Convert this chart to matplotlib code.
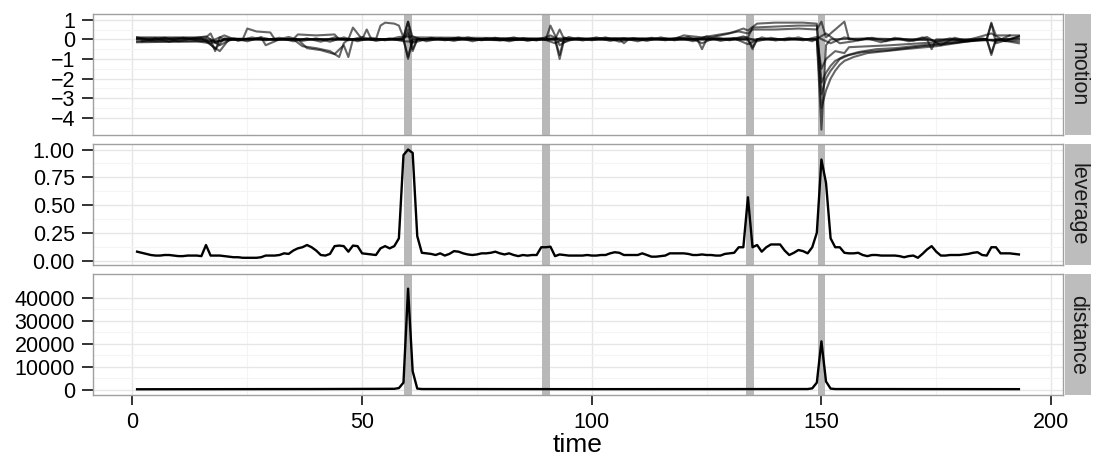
import numpy as np
import matplotlib
matplotlib.use("Agg")
import matplotlib.pyplot as plt

plt.rcParams['font.family'] = ['Liberation Sans', 'DejaVu Sans']

# ---- data ----
time = list(range(1, 194))

leverage = [
    0.08, 0.07, 0.06, 0.05, 0.045, 0.045, 0.05, 0.05, 0.045, 0.04,
    0.04, 0.045, 0.045, 0.045, 0.04, 0.14, 0.045, 0.045, 0.045, 0.04,
    0.035, 0.03, 0.03, 0.025, 0.025, 0.025, 0.025, 0.03, 0.045, 0.045,
    0.045, 0.05, 0.065, 0.06, 0.09, 0.11, 0.12, 0.14, 0.12, 0.09,
    0.05, 0.045, 0.06, 0.13, 0.135, 0.13, 0.08, 0.135, 0.13, 0.065,
    0.06, 0.055, 0.05, 0.11, 0.13, 0.11, 0.13, 0.2, 0.95, 1.0,
    0.97, 0.22, 0.07, 0.065, 0.06, 0.05, 0.065, 0.045, 0.06, 0.085,
    0.08, 0.065, 0.055, 0.05, 0.055, 0.065, 0.065, 0.07, 0.08, 0.065,
    0.055, 0.065, 0.05, 0.04, 0.05, 0.045, 0.05, 0.05, 0.12, 0.12,
    0.125, 0.04, 0.055, 0.05, 0.045, 0.045, 0.045, 0.045, 0.05, 0.045,
    0.045, 0.05, 0.05, 0.065, 0.075, 0.07, 0.05, 0.05, 0.05, 0.05,
    0.065, 0.05, 0.035, 0.035, 0.04, 0.045, 0.065, 0.065, 0.065, 0.065,
    0.06, 0.05, 0.05, 0.055, 0.05, 0.05, 0.045, 0.045, 0.06, 0.065,
    0.07, 0.12, 0.12, 0.57, 0.12, 0.14, 0.08, 0.12, 0.145, 0.145,
    0.145, 0.09, 0.05, 0.07, 0.095, 0.085, 0.065, 0.12, 0.25, 0.91,
    0.7, 0.2, 0.12, 0.12, 0.07, 0.065, 0.065, 0.07, 0.05, 0.04,
    0.05, 0.05, 0.045, 0.045, 0.045, 0.045, 0.04, 0.03, 0.04, 0.045,
    0.025, 0.06, 0.1, 0.13, 0.08, 0.045, 0.045, 0.05, 0.05, 0.05,
    0.055, 0.06, 0.07, 0.075, 0.05, 0.045, 0.12, 0.12, 0.065, 0.065,
    0.065, 0.06, 0.055,
]

# distance is ~0 except at the two outliers
dist_t = [1, 40, 57, 58, 59, 60, 61, 62, 63, 100, 147, 148, 149, 150, 151, 152, 153, 193]
dist_v = [100, 200, 300, 600, 3000, 44000, 8000, 400, 200, 150, 200, 500, 3000, 21000, 3500, 400, 200, 150]

# motion parameters (break points of each trace)
m1_t = [1, 5, 10, 16, 18, 20, 30, 47, 48, 50, 59, 60, 61, 70, 80, 92, 93, 94, 105, 120,
        134, 135, 136, 149, 150, 151, 152, 160, 175, 186, 187, 188, 193]
m1_v = [0.02, -0.05, 0.05, 0.0, -0.5, 0.05, 0.0, 0.0, 0.6, 0.0, 0.0, -0.9, 0.0, 0.05, -0.05, 0.0, -1.0, 0.0, 0.05, 0.0,
        0.0, -0.5, 0.0, 0.0, -4.6, -0.3, 0.0, 0.05, -0.05, 0.0, -0.8, 0.0, 0.0]

m2_t = [1, 14, 17, 20, 26, 28, 29, 32, 58, 59, 60, 61, 62, 90, 91, 93, 95, 106, 107, 108, 130,
        149, 150, 151, 152, 153, 154, 155, 157, 160, 164, 168, 175, 182, 193]
m2_v = [-0.1, -0.1, -0.2, 0.0, 0.0, 0.1, -0.3, 0.0, 0.0, 0.1, 0.9, -0.2, 0.0, 0.0, 0.7, -0.3, 0.0, 0.0, -0.2, 0.0, 0.0,
        0.0, -3.5, -2.6, -2.0, -1.6, -1.3, -1.1, -0.9, -0.7, -0.6, -0.5, -0.35, -0.1, 0.05]

m3_t = [1, 15, 19, 21, 35, 37, 40, 43, 45, 46, 47, 59, 60, 61, 80, 125, 134, 135, 140, 145, 149,
        150, 151, 152, 153, 154, 156, 159, 165, 172, 178, 185, 193]
m3_v = [0.05, 0.05, -0.6, 0.0, 0.0, -0.35, -0.45, -0.6, -0.9, -0.2, 0.0, 0.0, -1.0, 0.0, 0.0, 0.0, 0.1, 0.6, 0.65, 0.7, 0.7,
        -2.8, -2.0, -1.6, -1.3, -1.0, -0.8, -0.65, -0.55, -0.35, -0.2, 0.0, -0.1]

m4_t = [1, 15, 17, 24, 25, 27, 30, 31, 53, 54, 55, 57, 58, 59, 60, 61, 90, 125, 130, 133, 134, 136,
        140, 146, 149, 150, 151, 152, 153, 155, 158, 162, 166, 172, 180, 186, 187, 188, 193]
m4_v = [-0.15, -0.1, -0.1, 0.0, 0.55, 0.4, 0.35, 0.0, 0.0, 0.7, 0.85, 0.8, 0.7, 0.1, 0.9, 0.1, 0.05, 0.05, 0.3, 0.55, 0.45, 0.8,
        0.85, 0.85, 0.8, -2.2, -1.7, -1.35, -1.1, -0.85, -0.65, -0.5, -0.45, -0.3, -0.15, 0.0, 0.8, 0.2, 0.2]

m5_t = [1, 16, 17, 18, 20, 35, 36, 40, 44, 45, 50, 51, 52, 59, 60, 61, 62, 92, 93, 94, 118, 120,
        124, 128, 132, 134, 135, 140, 145, 149, 150, 151, 155, 156, 173, 174, 175, 186, 187, 188, 193]
m5_v = [0.1, 0.1, 0.3, -0.2, 0.0, 0.0, 0.25, 0.2, 0.25, 0.0, 0.0, 0.5, 0.0, 0.0, 0.5, -0.5, 0.0, 0.0, 0.5, 0.0, 0.0, 0.2,
        0.1, 0.25, 0.4, 0.3, 0.5, 0.5, 0.55, 0.5, 0.9, 0.1, 0.9, 0.0, 0.0, -0.5, 0.0, 0.0, 0.85, -0.2, 0.15]

m6_t = [1, 17, 18, 19, 20, 36, 38, 41, 44, 46, 47, 48, 59, 60, 61, 62, 92, 93, 94, 95, 123, 124, 125,
        134, 135, 136, 149, 150, 151, 153, 155, 156, 165, 175, 186, 187, 188, 193]
m6_v = [0.0, 0.0, -0.6, 0.1, 0.0, 0.0, -0.45, -0.55, -0.75, -0.3, -0.9, 0.0, 0.0, 0.3, -0.6, 0.0, 0.0, -0.8, 0.1, 0.0, 0.0, -0.5, 0.0,
        0.0, -0.4, 0.0, 0.0, -1.5, -1.0, -0.6, -0.7, -0.4, -0.3, -0.15, 0.0, -0.7, 0.0, -0.2]

# two jittery traces that make the dark band round zero
m7_t = list(range(1, 194, 3))
m7_v = [0.1, -0.05, 0.08, -0.1, 0.05, 0.15, -0.3, 0.05, -0.1, 0.1,
        -0.05, 0.12, -0.08, 0.05, -0.12, 0.1, -0.1, 0.08, -0.05, 0.12,
        0.15, -0.1, 0.05, -0.08, 0.1, -0.05, 0.08, -0.1, 0.06, -0.06,
        0.2, -0.15, 0.08, -0.05, 0.1, -0.12, 0.06, -0.08, 0.1, -0.05,
        0.12, -0.2, 0.1, -0.05, 0.15, -0.1, 0.08, -0.05, 0.1, -0.1,
        0.3, -0.2, -0.1, 0.05, -0.15, 0.08, -0.1, 0.1, -0.12, 0.05,
        -0.08, 0.1, 0.3, -0.1, 0.15]

m8_t = list(range(2, 194, 3))
m8_v = [-0.1, 0.05, -0.12, 0.08, -0.05, -0.1, 0.2, -0.08, 0.1, -0.05,
        0.08, -0.1, 0.05, -0.12, 0.1, -0.05, 0.12, -0.08, 0.05, -0.1,
        -0.12, 0.08, -0.05, 0.1, -0.1, 0.06, -0.05, 0.1, -0.08, 0.05,
        -0.2, 0.12, -0.06, 0.1, -0.08, 0.05, -0.1, 0.08, -0.05, 0.1,
        -0.1, 0.15, -0.08, 0.05, -0.25, 0.1, -0.06, 0.08, -0.05, 0.12,
        -0.2, 0.1, -0.05, 0.08, -0.1, 0.05, -0.08, 0.12, -0.3, 0.08,
        -0.1, 0.05, -0.12, 0.2]

motion_t = [m1_t, m2_t, m3_t, m4_t, m5_t, m6_t, m7_t, m8_t]
motion_v = [m1_v, m2_v, m3_v, m4_v, m5_v, m6_v, m7_v, m8_v]

outliers = [60, 90, 134.5, 150]
x_ticks = [0, 50, 100, 150, 200]
panels = ['motion', 'leverage', 'distance']

# ---- layout (pixels of a 1093x459 canvas) ----
W, H = 1093, 459
fig = plt.figure(figsize=(W / 100, H / 100), dpi=100)

left, right = 93, 1063
rows = [(14, 135), (144, 265), (274, 395)]
ylims = [(-4.87, 1.29), (-0.04, 1.05), (-2400, 50400)]
yticks = [[1, 0, -1, -2, -3, -4], [0, 0.25, 0.5, 0.75, 1.0], [0, 10000, 20000, 30000, 40000]]
ylabels = [['1', '0', '\u22121', '\u22122', '\u22123', '\u22124'],
           ['0.00', '0.25', '0.50', '0.75', '1.00'],
           ['0', '10000', '20000', '30000', '40000']]
xlim = (-8.6, 202.6)

axes = []
for i, (top, bot) in enumerate(rows):
    ax = fig.add_axes([left / W, 1 - bot / H, (right - left) / W, (bot - top) / H])
    axes.append(ax)
    ax.set_axisbelow(True)
    ax.set_xlim(*xlim)
    ax.set_ylim(*ylims[i])
    ax.set_xticks(x_ticks)
    ax.set_xticks([25, 75, 125, 175], minor=True)
    ax.set_yticks(yticks[i])
    ax.set_yticklabels(ylabels[i])
    yt = sorted(yticks[i])
    ax.set_yticks([(a + b) / 2 for a, b in zip(yt[:-1], yt[1:])], minor=True)
    ax.grid(which='major', color='#e6e6e6', lw=1.0)
    ax.grid(which='minor', color='#f4f4f4', lw=0.8)
    for s in ax.spines.values():
        s.set_color('#a0a0a0')
        s.set_linewidth(1.0)
    ax.tick_params(axis='both', which='major', length=8, width=1.4, color='#333333',
                   labelsize=15.5, pad=5)
    ax.tick_params(axis='both', which='minor', length=0)
    if i < 2:
        ax.tick_params(axis='x', labelbottom=False, length=0)
    for t in outliers:
        ax.axvspan(t - 0.85, t + 0.85, color='#b8b8b8', lw=0, zorder=1)

    # facet strip on the right
    sax = fig.add_axes([(right + 2) / W, 1 - bot / H, 26 / W, (bot - top) / H])
    sax.set_facecolor('#bdbdbd')
    sax.set_xticks([])
    sax.set_yticks([])
    for s in sax.spines.values():
        s.set_visible(False)
    sax.text(0.5, 0.5, panels[i], rotation=270, ha='center', va='center',
             fontsize=15.5, color='#1a1a1a', transform=sax.transAxes)

ax_m, ax_l, ax_d = axes
for tt, vv in zip(motion_t, motion_v):
    ax_m.plot(tt, vv, color='black', lw=1.5, alpha=0.6, zorder=3)

ax_l.plot(time, leverage, color='black', lw=1.7, zorder=3)
ax_d.plot(dist_t, dist_v, color='black', lw=1.7, zorder=3)

ax_d.set_xticklabels([str(x) for x in x_ticks])
ax_d.tick_params(axis='x', length=7, pad=5)
ax_d.set_xlabel('time', fontsize=19, labelpad=0)

fig.savefig('out.png', dpi=100)
